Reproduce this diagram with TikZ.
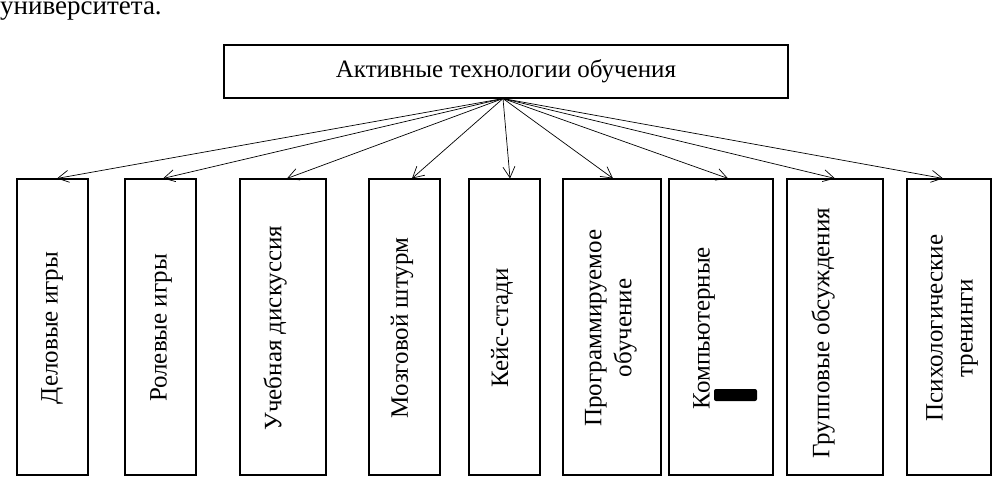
\documentclass[tikz,border=0pt]{standalone}
\usepackage{fontspec}
\setmainfont{Liberation Serif}
\usetikzlibrary{arrows.meta}
\begin{document}
\begin{tikzpicture}[x=1pt,y=-1pt,
  box/.style={draw, line width=1.1pt, inner sep=0pt},
  lbl/.style={font=\fontsize{25}{30}\selectfont, rotate=90, align=center, inner sep=0pt},
  arr/.style={-{Straight Barb[length=11pt,width=12pt,line width=0.7pt]}, line width=0.7pt}]
\useasboundingbox (0,0) rectangle (992,477);
\node[anchor=base west, inner sep=0pt, font=\fontsize{27}{30}\selectfont] (prev) at (0,14.5) {университета.};
\node[box, minimum width=564pt, minimum height=53pt, font=\fontsize{25}{30}\selectfont] (title) at (506,71.5) {Активные технологии обучения};
% boxes
\node[box, minimum width=71pt, minimum height=296pt] (b1) at (52.5,327) {};
\node[box, minimum width=71pt, minimum height=296pt] (b2) at (160.5,327) {};
\node[box, minimum width=86pt, minimum height=296pt] (b3) at (283,327) {};
\node[box, minimum width=71pt, minimum height=296pt] (b4) at (404.5,327) {};
\node[box, minimum width=71pt, minimum height=296pt] (b5) at (504.5,327) {};
\node[box, minimum width=98pt, minimum height=296pt] (b6) at (612,327) {};
\node[box, minimum width=104pt, minimum height=296pt] (b7) at (721,327) {};
\node[box, minimum width=96pt, minimum height=296pt] (b8) at (835,327) {};
\node[box, minimum width=84pt, minimum height=296pt] (b9) at (949,327) {};
% labels
\node[lbl] (l1) at (52,328) {Деловые игры};
\node[lbl] (l2) at (161,328) {Ролевые игры};
\node[lbl] (l3) at (275,328) {Учебная дискуссия};
\node[lbl] (l4) at (402,328) {Мозговой штурм};
\node[lbl] (l5) at (502,328) {Кейс-стади};
\node[lbl] (l6) at (611,328) {Программируемое\\обучение};
\node[lbl] (l7) at (704,328) {Компьютерные};
\node[lbl] (l8) at (823,333) {Групповые обсуждения};
\node[lbl] (l9) at (952,328) {Психологические\\тренинги};
\node[fill=black, rounded corners=2pt, minimum width=43pt, minimum height=12pt, inner sep=0pt] (redact) at (735.5,395) {};
% arrows
\coordinate (src) at ([xshift=-3pt]title.south);
\draw[arr] (src) -- ([xshift=4.5pt]b1.north);
\draw[arr] (src) -- ([xshift=2.5pt]b2.north);
\draw[arr] (src) -- ([xshift=4pt]b3.north);
\draw[arr] (src) -- ([xshift=7.5pt]b4.north);
\draw[arr] (src) -- ([xshift=5.5pt]b5.north);
\draw[arr] (src) -- ([xshift=1pt]b6.north);
\draw[arr] (src) -- ([xshift=7pt]b7.north);
\draw[arr] (src) -- (b8.north);
\draw[arr] (src) -- ([xshift=-6pt]b9.north);
\end{tikzpicture}
\end{document}
